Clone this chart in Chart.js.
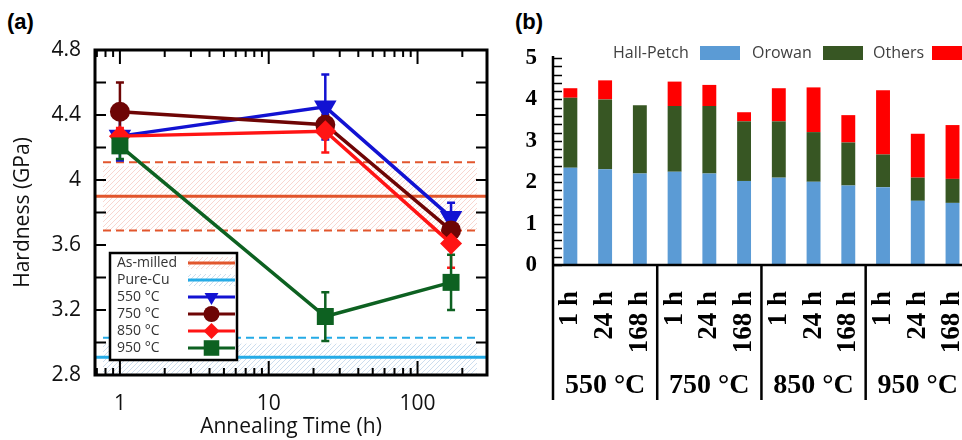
<!DOCTYPE html>
<html>
<head>
<meta charset="utf-8">
<title>Hardness</title>
<script src="https://cdn.jsdelivr.net/npm/chart.js@4.4.0/dist/chart.umd.min.js"></script>
<style>
html, body { margin: 0; padding: 0; background: #fff; overflow: hidden; width: 962px; height: 440px; }
#boxA { position: absolute; left: 0; top: 0; }
#boxB { position: absolute; left: 500px; top: 0; }
.tag { position: absolute; top: 9px; font: bold 22px "Liberation Sans", Arial, sans-serif; color: #000; }
</style>
</head>
<body>
<div class="tag" style="left:7px">(a)</div>
<div class="tag" style="left:515px">(b)</div>
<canvas id="boxA" width="500" height="440"></canvas>
<canvas id="boxB" width="503" height="440"></canvas>
<script>
// --- panel (a): hardness vs annealing time ---
const hours = [1, 24, 168];
const hard550 = [4.27, 4.45, 3.77];
const err550 = [0.15, 0.20, 0.09];
const hard750 = [4.42, 4.34, 3.69];
const err750 = [0.18, 0.06, 0.05];
const hard850 = [4.27, 4.30, 3.61];
const err850 = [0.05, 0.13, 0.15];
const hard950 = [4.21, 3.16, 3.37];
const err950 = [0.08, 0.15, 0.17];
const asMilled = [3.90, 0.21];   // mean, spread
const pureCu = [2.91, 0.12];

// --- panel (b): strengthening contributions ---
const temps = ['550 °C', '750 °C', '850 °C', '950 °C'];
const times = ['1 h', '24 h', '168 h'];
const hallPetch = [2.35, 2.31, 2.21, 2.25, 2.21, 2.03, 2.11, 2.01, 1.92, 1.88, 1.55, 1.50];
const orowan = [1.69, 1.69, 1.65, 1.59, 1.63, 1.44, 1.36, 1.20, 1.04, 0.79, 0.56, 0.58];
const others = [0.23, 0.46, 0.00, 0.59, 0.51, 0.22, 0.80, 1.08, 0.66, 1.55, 1.06, 1.30];

const sans = '"Open Sans", "DejaVu Sans", sans-serif';
const serif = '"Liberation Serif", "Times New Roman", serif';

function hatch(ctx, color) {
    const c = document.createElement('canvas');
    c.width = 5; c.height = 5;
    const g = c.getContext('2d');
    g.strokeStyle = color;
    g.lineWidth = 0.9;
    g.beginPath();
    g.moveTo(-1, 6); g.lineTo(6, -1);
    g.moveTo(-3, 3); g.lineTo(3, -3);
    g.moveTo(2, 8); g.lineTo(8, 2);
    g.stroke();
    return ctx.createPattern(c, 'repeat');
}

function marker(ctx, style, x, y, r, color) {
    ctx.fillStyle = color;
    ctx.beginPath();
    if (style === 'circle') {
        ctx.arc(x, y, r, 0, Math.PI * 2);
    } else if (style === 'triangle') {
        ctx.moveTo(x - r * 0.87, y - r * 0.5);
        ctx.lineTo(x + r * 0.87, y - r * 0.5);
        ctx.lineTo(x, y + r);
    } else if (style === 'rectRot') {
        ctx.moveTo(x, y - r); ctx.lineTo(x + r, y); ctx.lineTo(x, y + r); ctx.lineTo(x - r, y);
    } else {
        const s = r * Math.SQRT1_2;
        ctx.rect(x - s, y - s, 2 * s, 2 * s);
    }
    ctx.closePath();
    ctx.fill();
}

function series(label, color, style, rot, radius, ys, errs, order) {
    return {
        label: label,
        data: hours.map((h, i) => ({ x: h, y: ys[i] })),
        errors: errs,
        borderColor: color,
        backgroundColor: color,
        borderWidth: 3.5,
        pointStyle: style,
        pointRotation: rot,
        pointRadius: radius,
        pointBorderWidth: 0,
        order: order
    };
}

const bandsA = [
    { label: 'As-milled', v: asMilled, line: '#e2562d', fill: 'rgba(240,165,150,0.5)', top: 4 },
    { label: 'Pure-Cu', v: pureCu, line: '#25abe6', fill: 'rgba(150,185,220,0.55)', top: 6 }
];

// bands of the reference materials
const bandPlugin = {
    id: 'bands',
    beforeDatasetsDraw(chart) {
        const { ctx, chartArea: a } = chart;
        const y = chart.scales.y;
        ctx.save();
        ctx.beginPath();
        ctx.rect(a.left, a.top, a.right - a.left, a.bottom - a.top);
        ctx.clip();
        bandsA.forEach(b => {
            const yc = y.getPixelForValue(b.v[0]);
            const yHi = y.getPixelForValue(b.v[0] + b.v[1]);
            const yLo = y.getPixelForValue(b.v[0] - b.v[1]);
            ctx.fillStyle = hatch(ctx, b.fill);
            ctx.fillRect(a.left + 8, yHi + b.top, a.right - a.left - 18, yLo - yHi - b.top);
            ctx.strokeStyle = b.line;
            ctx.lineWidth = 2;
            ctx.setLineDash([8, 5]);
            ctx.beginPath();
            ctx.moveTo(a.left + 8, yHi); ctx.lineTo(a.right - 8, yHi);
            ctx.moveTo(a.left + 8, yLo); ctx.lineTo(a.right - 8, yLo);
            ctx.stroke();
            ctx.setLineDash([]);
            ctx.lineWidth = 3;
            ctx.beginPath();
            ctx.moveTo(a.left, yc); ctx.lineTo(a.right, yc);
            ctx.stroke();
        });
        ctx.restore();
    }
};

const errorPlugin = {
    id: 'errorBars',
    beforeDatasetsDraw(chart) {
        const ctx = chart.ctx;
        const y = chart.scales.y;
        chart.data.datasets.forEach((ds, i) => {
            const meta = chart.getDatasetMeta(i);
            ctx.save();
            ctx.strokeStyle = ds.borderColor;
            ctx.lineWidth = 2.5;
            meta.data.forEach((pt, j) => {
                const top = y.getPixelForValue(ds.data[j].y + ds.errors[j]);
                const bot = y.getPixelForValue(ds.data[j].y - ds.errors[j]);
                ctx.beginPath();
                ctx.moveTo(pt.x, top); ctx.lineTo(pt.x, bot);
                ctx.moveTo(pt.x - 4, top); ctx.lineTo(pt.x + 4, top);
                ctx.moveTo(pt.x - 4, bot); ctx.lineTo(pt.x + 4, bot);
                ctx.stroke();
            });
            ctx.restore();
        });
    }
};

function mantissa(v) {
    return v / Math.pow(10, Math.floor(Math.log10(v) + 1e-9));
}

const frameA = {
    id: 'frameA',
    afterDraw(chart) {
        const { ctx, chartArea: a } = chart;
        const x = chart.scales.x, y = chart.scales.y;
        ctx.save();
        ctx.strokeStyle = '#000';
        ctx.lineWidth = 2;
        ctx.beginPath();
        x.ticks.forEach(t => {
            const m = mantissa(t.value);
            if (Math.abs(m - Math.round(m)) > 1e-6) return;
            const len = Math.round(m) === 1 ? 14 : 7;
            const px = x.getPixelForValue(t.value);
            ctx.moveTo(px, a.top); ctx.lineTo(px, a.top + len);
            ctx.moveTo(px, a.bottom); ctx.lineTo(px, a.bottom - len);
        });
        for (let i = 0; i < y.ticks.length; i++) {
            const v = y.ticks[i].value;
            const vals = i < y.ticks.length - 1 ? [v, (v + y.ticks[i + 1].value) / 2] : [v];
            vals.forEach(val => {
                const py = y.getPixelForValue(val);
                ctx.moveTo(a.left, py); ctx.lineTo(a.left + 11, py);
                ctx.moveTo(a.right, py); ctx.lineTo(a.right - 11, py);
            });
        }
        ctx.stroke();
        ctx.lineWidth = 3;
        ctx.strokeRect(a.left, a.top, a.right - a.left, a.bottom - a.top);

        // legend box
        const lx = a.left + 15, lw = 127, lh = 107;
        const ly = a.bottom - 15 - lh;
        ctx.fillStyle = '#fff';
        ctx.fillRect(lx, ly, lw, lh);
        ctx.lineWidth = 2.5;
        ctx.strokeRect(lx, ly, lw, lh);
        ctx.font = '14px ' + sans;
        ctx.textBaseline = 'middle';
        const rows = bandsA.map(b => ({ label: b.label, color: b.line, fill: b.fill }))
            .concat(chart.data.datasets.map(d => ({ label: d.label, color: d.borderColor, style: d.pointStyle })));
        rows.forEach((r, i) => {
            const ry = ly + 10 + i * 17;
            ctx.fillStyle = '#333';
            ctx.fillText(r.label, lx + 7, ry);
            const sx0 = lx + 78, sx1 = lx + 125;
            if (r.fill) {
                ctx.fillStyle = hatch(ctx, r.fill);
                ctx.fillRect(sx0, ry - 6, sx1 - sx0, 12);
            }
            ctx.strokeStyle = r.color;
            ctx.lineWidth = 3;
            ctx.beginPath();
            ctx.moveTo(sx0, ry); ctx.lineTo(sx1, ry);
            ctx.stroke();
            if (r.style) {
                marker(ctx, r.style, (sx0 + sx1) / 2, ry, r.style === 'rect' ? 11 : 8, r.color);
            }
        });
        ctx.restore();
    }
};

new Chart(document.getElementById('boxA').getContext('2d'), {
    type: 'line',
    data: {
        datasets: [
            series('950 °C', '#0d6121', 'rect', 0, 12, hard950, err950, 1),
            series('850 °C', '#ff1414', 'rectRot', 0, 11, hard850, err850, 2),
            series('750 °C', '#6e0505', 'circle', 0, 10, hard750, err750, 3),
            series('550 °C', '#1212d2', 'triangle', 180, 13, hard550, err550, 4)
        ].reverse()
    },
    options: {
        responsive: false,
        animation: false,
        layout: { padding: { top: 50, right: 10, bottom: 0, left: 0 } },
        plugins: { legend: { display: false }, tooltip: { enabled: false } },
        scales: {
            x: {
                type: 'logarithmic',
                min: 0.68,
                max: 293,
                grid: { display: false },
                border: { display: false },
                ticks: {
                    autoSkip: false,
                    maxRotation: 0,
                    padding: 8,
                    color: '#111',
                    font: { family: sans, size: 21 },
                    callback: v => (Math.abs(mantissa(v) - 1) < 1e-6 ? String(Math.round(v)) : '')
                },
                title: { display: true, text: 'Annealing Time (h)', color: '#111', font: { family: sans, size: 21 }, padding: 0 },
                afterFit: s => { s.height = 65; }
            },
            y: {
                min: 2.8,
                max: 4.8,
                grid: { display: false },
                border: { display: false },
                ticks: {
                    stepSize: 0.4,
                    padding: 6,
                    color: '#111',
                    font: { family: sans, size: 21 },
                    callback: v => String(Math.round(v * 10) / 10)
                },
                title: { display: true, text: 'Hardness (GPa)', color: '#111', font: { family: sans, size: 21 }, padding: { top: 10, bottom: 0 } },
                afterFit: s => { s.width = 95; }
            }
        }
    },
    plugins: [bandPlugin, errorPlugin, frameA]
});

// --- panel (b) ---
const barLabels = [];
temps.forEach(() => times.forEach(t => barLabels.push(t)));

const frameB = {
    id: 'frameB',
    afterDraw(chart) {
        const { ctx, chartArea: a } = chart;
        const x = chart.scales.x, y = chart.scales.y;
        ctx.save();
        ctx.strokeStyle = '#000';
        ctx.lineWidth = 1.5;
        ctx.beginPath();
        for (let i = 0; i < y.ticks.length - 1; i++) {
            const v0 = y.ticks[i].value, v1 = y.ticks[i + 1].value;
            for (let k = 0; k < 5; k++) {
                const py = Math.round(y.getPixelForValue(v0 + (v1 - v0) * k / 5)) + 0.5;
                ctx.moveTo(a.left, py); ctx.lineTo(a.left + 9, py);
            }
        }
        const pTop = Math.round(y.getPixelForValue(y.max)) + 0.5;
        ctx.moveTo(a.left, pTop); ctx.lineTo(a.left + 9, pTop);
        ctx.stroke();

        ctx.lineWidth = 2.5;
        ctx.beginPath();
        ctx.moveTo(a.left, a.top - 2); ctx.lineTo(a.left, 400);
        ctx.moveTo(a.left, a.bottom); ctx.lineTo(a.right, a.bottom);
        for (let g = 1; g <= temps.length; g++) {
            const px = x.getPixelForValue(g * times.length - 0.5);
            ctx.moveTo(px, a.bottom); ctx.lineTo(px, 400);
        }
        ctx.stroke();

        ctx.fillStyle = '#000';
        ctx.font = 'bold 28px ' + serif;
        ctx.textAlign = 'center';
        ctx.textBaseline = 'middle';
        temps.forEach((t, g) => {
            ctx.fillText(t, x.getPixelForValue(g * times.length + 1), 386);
        });

        // legend: label then swatch
        ctx.font = '16px ' + sans;
        ctx.textAlign = 'left';
        const spots = [[113, 200], [252, 323], [373, 432]];
        chart.data.datasets.forEach((d, i) => {
            ctx.fillStyle = '#404040';
            ctx.fillText(d.label, spots[i][0], 53);
            ctx.fillStyle = d.backgroundColor;
            ctx.fillRect(spots[i][1], 46, 40, 14);
        });
        ctx.restore();
    }
};

new Chart(document.getElementById('boxB').getContext('2d'), {
    type: 'bar',
    data: {
        labels: barLabels,
        datasets: [
            { label: 'Hall-Petch', data: hallPetch, backgroundColor: '#5b9bd5' },
            { label: 'Orowan', data: orowan, backgroundColor: '#375623' },
            { label: 'Others', data: others, backgroundColor: '#ff0000' }
        ]
    },
    options: {
        responsive: false,
        animation: false,
        categoryPercentage: 1,
        barPercentage: 0.4,
        layout: { padding: { top: 58, right: 2, bottom: 0, left: 0 } },
        plugins: { legend: { display: false }, tooltip: { enabled: false } },
        scales: {
            x: {
                stacked: true,
                grid: { display: false },
                border: { display: false },
                ticks: {
                    autoSkip: false,
                    minRotation: 90,
                    maxRotation: 90,
                    padding: 18,
                    color: '#000',
                    font: { family: serif, size: 27, weight: 'bold' }
                },
                afterFit: s => { s.height = 175; }
            },
            y: {
                stacked: true,
                min: 0,
                max: 5,
                grid: { display: false },
                border: { display: false },
                ticks: {
                    stepSize: 1,
                    padding: 8,
                    color: '#000',
                    font: { family: serif, size: 23, weight: 'bold' }
                },
                afterFit: s => { s.width = 53; }
            }
        }
    },
    plugins: [frameB]
});
</script>
</body>
</html>
